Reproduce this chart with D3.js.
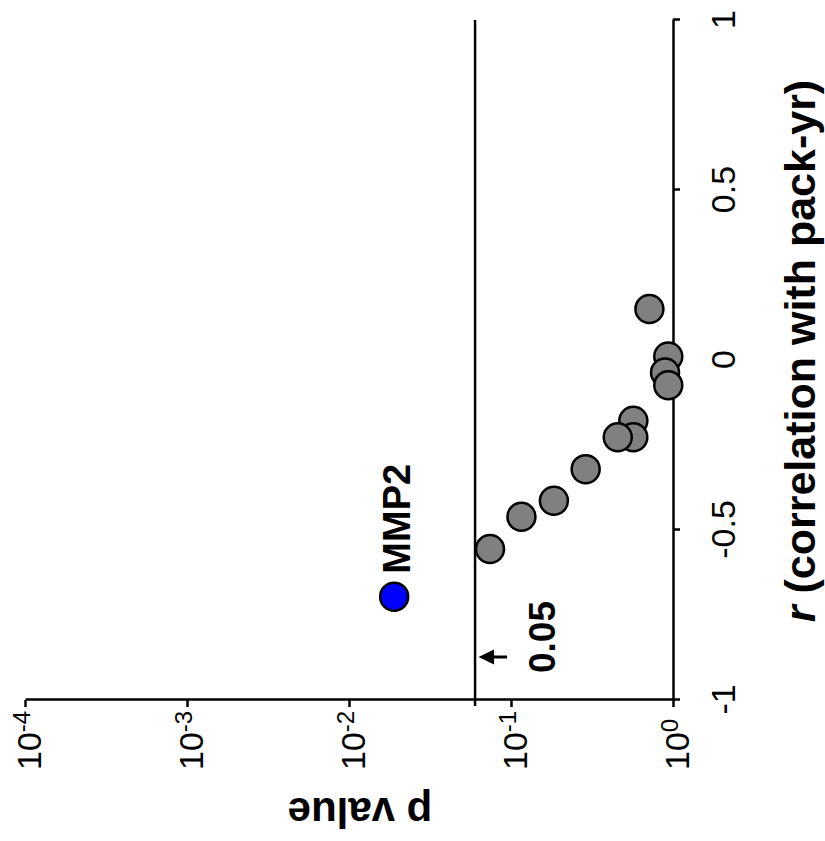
<!DOCTYPE html>
<html><head><meta charset="utf-8">
<script src="https://cdn.jsdelivr.net/npm/d3@7"></script>
<style>body{margin:0;background:#fff}svg{display:block}</style>
</head><body>
<svg id="c" width="825" height="841"></svg>
<script>
// ---- data ----
const rValues = [0.15, 0.01, -0.037, -0.074, -0.179, -0.227, -0.227, -0.321, -0.414, -0.461, -0.556];
const pValues = [0.715, 0.935, 0.893, 0.935, 0.569, 0.569, 0.456, 0.289, 0.184, 0.116, 0.0742];
const highlightGenes = ["MMP2"];
const highlightR = [-0.696];
const highlightP = [0.019];
const rTicks = [-1, -0.5, 0, 0.5, 1];
const rTickLabels = ["-1", "-0.5", "0", "0.5", "1"];
const pTicks = [1e-4, 1e-3, 1e-2, 1e-1, 1];
const pTickBase = ["10", "10", "10", "10", "10"];
const pTickExponents = ["-4", "-3", "-2", "-1", "0"];
const thresholdP = [0.06];
const thresholdLabels = ["0.05"];
const xTitleItalic = "r";
const xTitleRest = " (correlation with pack-yr)";
const yTitle = "p value";

// ---- drawing ----
const FONT = "'Liberation Sans', Arial, Helvetica, sans-serif";
const svg = d3.select("#c");
// chart is drawn in its natural orientation, then turned 90° counter-clockwise
const g = svg.append("g").attr("transform", "translate(0,841) rotate(-90)")
  .style("font-family", FONT);

const x = d3.scaleLinear().domain([-1, 1]).range([141, 821]);
const y = d3.scaleLog().domain([1e-4, 1]).range([25, 673]);

// threshold line
g.append("line")
  .attr("x1", x(-1) - 6).attr("x2", x(1))
  .attr("y1", y(thresholdP[0])).attr("y2", y(thresholdP[0]))
  .attr("stroke", "#000").attr("stroke-width", 2.5);

// x axis (r)
const xAxis = g.append("g").attr("transform", `translate(0,${y(1)})`)
  .call(d3.axisBottom(x).tickValues(rTicks).tickSize(7).tickSizeOuter(0).tickPadding(31)
    .tickFormat((d, i) => rTickLabels[i]));
// y axis (p)
const yAxis = g.append("g").attr("transform", `translate(${x(-1)},0)`)
  .call(d3.axisLeft(y).tickValues(pTicks).tickSize(7).tickSizeOuter(0).tickFormat(() => ""));

[xAxis, yAxis].forEach(a => {
  a.select(".domain").attr("stroke", "#000").attr("stroke-width", 2.5);
  a.selectAll(".tick line").attr("stroke", "#000").attr("stroke-width", 2.5);
});
xAxis.selectAll(".tick text").attr("fill", "#000").style("font-size", "34px").style("font-family", FONT);

yAxis.selectAll(".tick").each(function(d, i) {
  const t = d3.select(this).append("text")
    .attr("x", -70).attr("y", 15)
    .attr("text-anchor", "start").attr("fill", "#000")
    .style("font-family", FONT).style("font-size", "34px");
  t.append("tspan").text(pTickBase[i]);
  t.append("tspan").attr("dy", -11).style("font-size", "24px").text(pTickExponents[i]);
});

// highlighted point (drawn beneath others)
g.selectAll("circle.hl").data(highlightR).join("circle").attr("class", "hl")
  .attr("cx", d => x(d)).attr("cy", (d, i) => y(highlightP[i])).attr("r", 14)
  .attr("fill", "#0000ff").attr("stroke", "#000").attr("stroke-width", 2.5);
g.selectAll("text.hl").data(highlightR).join("text").attr("class", "hl")
  .attr("x", d => x(d) + 23).attr("y", (d, i) => y(highlightP[i]) + 16)
  .attr("fill", "#000").style("font-weight", "bold").style("font-size", "38px")
  .text((d, i) => highlightGenes[i]);

// other points
g.selectAll("circle.pt").data(rValues).join("circle").attr("class", "pt")
  .attr("cx", d => x(d)).attr("cy", (d, i) => y(pValues[i])).attr("r", 14)
  .attr("fill", "#808080").attr("stroke", "#000").attr("stroke-width", 2.5);

// threshold arrow + label
const ty = y(thresholdP[0]);
const ax = x(-1) + 43;
g.append("line").attr("x1", ax).attr("x2", ax).attr("y1", ty + 32).attr("y2", ty + 16)
  .attr("stroke", "#000").attr("stroke-width", 3);
g.append("path")
  .attr("d", `M${ax},${ty + 3.5}L${ax - 7.5},${ty + 19}L${ax + 7.5},${ty + 19}Z`)
  .attr("fill", "#000");
g.append("text").attr("x", x(-1) + 27).attr("y", ty + 80)
  .attr("fill", "#000").style("font-weight", "bold").style("font-size", "37px")
  .text(thresholdLabels[0]);

// axis titles
const xt = g.append("text").attr("x", 490).attr("y", 815).attr("text-anchor", "middle")
  .attr("fill", "#000").style("font-weight", "bold").style("font-size", "43px");
xt.append("tspan").style("font-style", "italic").text(xTitleItalic);
xt.append("tspan").text(xTitleRest);

g.append("text").attr("transform", "translate(43,360) rotate(-90)")
  .attr("text-anchor", "middle").attr("fill", "#000")
  .style("font-weight", "bold").style("font-size", "42px").text(yTitle);
</script>
</body></html>
